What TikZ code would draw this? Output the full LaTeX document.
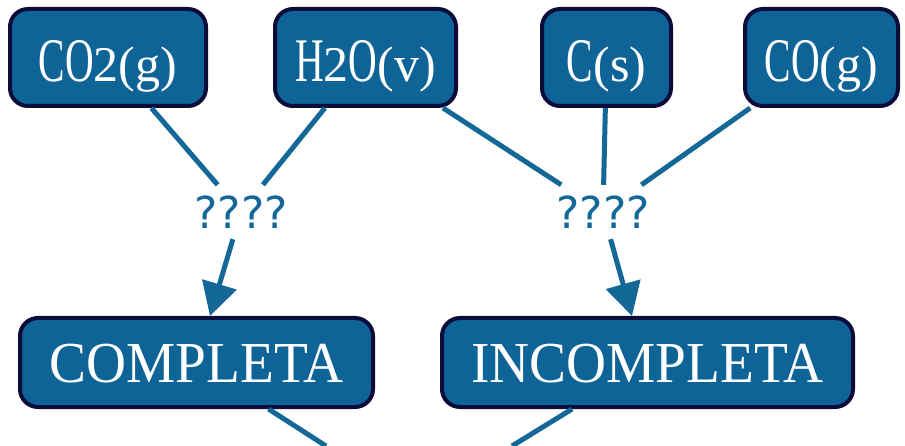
\documentclass[tikz,border=0pt]{standalone}
\usepackage{fontspec}
\usepackage{graphicx}
\setmainfont{Liberation Serif}
\newfontfamily\chemfont{Liberation Serif}
\newfontfamily\qfont{DejaVu Sans}
\usetikzlibrary{arrows.meta}

\definecolor{boxfill}{RGB}{14,100,150}
\definecolor{boxedge}{RGB}{12,12,58}
\definecolor{linkblue}{RGB}{20,104,152}

% large condensed symbol and smaller inline index / state
\newcommand\mainsym[1]{\scalebox{0.64}[1]{\chemfont\fontsize{62pt}{62pt}\selectfont #1}}
\newcommand\subsym[1]{{\chemfont\fontsize{50pt}{50pt}\selectfont #1}}
\newcommand\kindtext[1]{\scalebox{0.955}[1]{\chemfont\fontsize{58pt}{58pt}\selectfont #1}}

\begin{document}
\begin{tikzpicture}[x=1pt,y=-1pt,
  species/.style={draw=boxedge, line width=4pt, fill=boxfill, rounded corners=18pt,
    text=white, inner sep=0pt, minimum height=97pt, text height=49pt, text depth=0pt},
  kind/.style={draw=boxedge, line width=4pt, fill=boxfill, rounded corners=18pt,
    text=white, inner sep=0pt, minimum height=89pt, text height=39pt, text depth=0pt},
  query/.style={text=linkblue, font=\qfont\fontsize{44pt}{44pt}\selectfont,
    inner sep=0pt, minimum height=54pt, minimum width=100pt},
  link/.style={draw=linkblue, line width=5pt},
  flow/.style={link, -{Triangle[length=33pt,width=35pt]}}]

\useasboundingbox (0,0) rectangle (905,446);

% reactants / products
\node[species, minimum width=196pt] (co2) at (108,57.5) {\mainsym{CO}\subsym{2(g)}};
\node[species, minimum width=181pt] (h2o) at (365.5,57.5) {\mainsym{H}\subsym{2}\mainsym{O}\subsym{(v)}};
\node[species, minimum width=129pt] (cs)  at (606.5,57.5) {\mainsym{C}\subsym{(s)}};
\node[species, minimum width=153pt] (cog) at (821.5,57.5) {\mainsym{CO}\subsym{(g)}};

% unknown links
\node[query] (q1) at (241,212) {????};
\node[query] (q2) at (603,212) {????};

% kinds of combustion
\node[kind, minimum width=353pt] (comp) at (196.5,362.5) {\kindtext{COMPLETA}};
\node[kind, minimum width=411pt] (inc)  at (647.5,362.5) {\kindtext{INCOMPLETA}};

\draw[link] (co2) -- (q1);
\draw[link] (h2o) -- (q1);
\draw[link] (h2o) -- (q2);
\draw[link] (cs)  -- (q2);
\draw[link] (cog) -- (q2);

\draw[flow] (q1) -- ([xshift=13.5pt]comp.north);
\draw[flow] (q2) -- ([xshift=-15.5pt]inc.north);

% links leaving the lower edge
\coordinate (downA) at (326,446);
\coordinate (downB) at (512,446);
\draw[link] (comp) -- (downA);
\draw[link] (inc) -- (downB);
\end{tikzpicture}
\end{document}
